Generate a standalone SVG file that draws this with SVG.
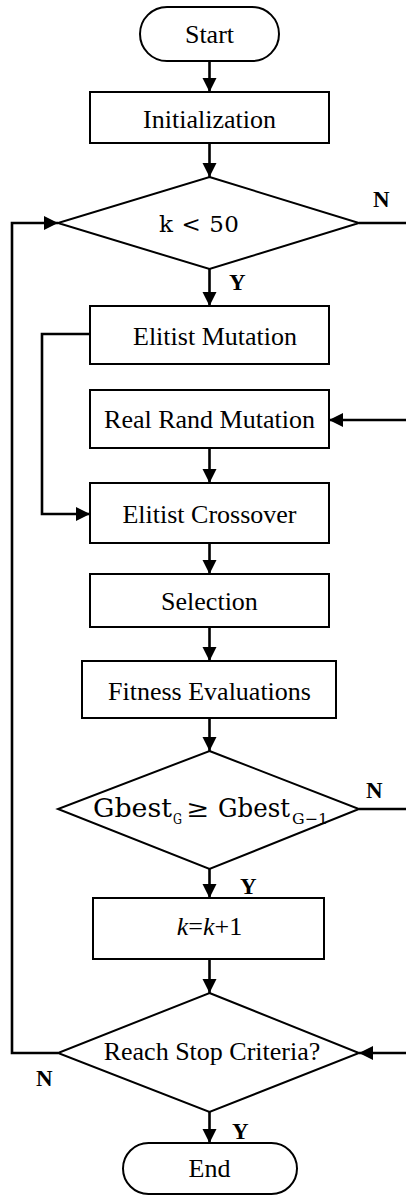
<svg xmlns="http://www.w3.org/2000/svg" width="406" height="1196" viewBox="0 0 406 1196">
<style>
.shape{fill:#fff;stroke:#000;stroke-width:2}
.conn{fill:none;stroke:#000;stroke-width:2.6}
.t{font-family:"Liberation Serif","Times New Roman",serif;font-size:26px;text-anchor:middle;fill:#000}
.m{font-family:"DejaVu Serif",serif;fill:#000}
.lab{font-family:"Liberation Serif","Times New Roman",serif;font-size:23px;font-weight:bold;fill:#000}
</style>
<defs>
<marker id="ah" markerUnits="userSpaceOnUse" markerWidth="15" markerHeight="15" refX="14" refY="7" orient="auto">
<path d="M0,0 L14,7 L0,14 z" fill="#000"/>
</marker>
</defs>
<g id="connectors">
<line class="conn" x1="209.5" y1="61" x2="209.5" y2="92" marker-end="url(#ah)"/>
<line class="conn" x1="209.5" y1="143" x2="209.5" y2="177" marker-end="url(#ah)"/>
<line class="conn" x1="359" y1="223" x2="406" y2="223"/>
<line class="conn" x1="209.5" y1="269" x2="209.5" y2="306" marker-end="url(#ah)"/>
<polyline class="conn" points="90,334 42,334 42,514 90,514" marker-end="url(#ah)"/>
<line class="conn" x1="406" y1="420" x2="329" y2="420" marker-end="url(#ah)"/>
<line class="conn" x1="209.5" y1="448" x2="209.5" y2="483" marker-end="url(#ah)"/>
<line class="conn" x1="209.5" y1="543" x2="209.5" y2="574" marker-end="url(#ah)"/>
<line class="conn" x1="209.5" y1="627" x2="209.5" y2="661" marker-end="url(#ah)"/>
<line class="conn" x1="209.5" y1="718" x2="209.5" y2="751" marker-end="url(#ah)"/>
<line class="conn" x1="359" y1="809" x2="406" y2="809"/>
<line class="conn" x1="209.5" y1="869" x2="209.5" y2="898" marker-end="url(#ah)"/>
<line class="conn" x1="209.5" y1="959" x2="209.5" y2="993" marker-end="url(#ah)"/>
<polyline class="conn" points="58,1053 12,1053 12,223 58,223" marker-end="url(#ah)"/>
<line class="conn" x1="406" y1="1053" x2="359" y2="1053" marker-end="url(#ah)"/>
<line class="conn" x1="209.5" y1="1112" x2="209.5" y2="1143" marker-end="url(#ah)"/>
<text class="lab" x="373" y="207">N</text>
<text class="lab" x="229" y="290">Y</text>
<text class="lab" x="366" y="798">N</text>
<text class="lab" x="240" y="894">Y</text>
<text class="lab" x="36" y="1086">N</text>
<text class="lab" x="232" y="1139">Y</text>
</g>
<g id="start">
<rect class="shape" x="140" y="7" width="139" height="54" rx="27"/>
<text class="t" x="209.5" y="43">Start</text>
</g>
<g id="init">
<rect class="shape" x="90" y="92" width="239" height="51"/>
<text class="t" x="209.5" y="128">Initialization</text>
</g>
<g id="cond1">
<polygon class="shape" points="209.5,177 359,223 209.5,269 58,223"/>
<text class="m" x="199" y="232" font-size="23" text-anchor="middle" textLength="80" lengthAdjust="spacing">k &lt; 50</text>
</g>
<g id="elitist-mutation">
<rect class="shape" x="90" y="306" width="239" height="58"/>
<text class="t" x="215" y="345">Elitist Mutation</text>
</g>
<g id="real-rand">
<rect class="shape" x="90" y="390" width="239" height="58"/>
<text class="t" x="209.5" y="428" font-size="23.5">Real Rand Mutation</text>
</g>
<g id="elitist-crossover">
<rect class="shape" x="90" y="483" width="239" height="60"/>
<text class="t" x="209.5" y="523">Elitist Crossover</text>
</g>
<g id="selection">
<rect class="shape" x="90" y="574" width="239" height="53"/>
<text class="t" x="209.5" y="610">Selection</text>
</g>
<g id="fitness">
<rect class="shape" x="82" y="661" width="254" height="57"/>
<text class="t" x="209.5" y="700">Fitness Evaluations</text>
</g>
<g id="cond2">
<polygon class="shape" points="209.5,751 359,809 209.5,869 58,809"/>
<text class="m" font-size="26" x="93" y="817" textLength="79" lengthAdjust="spacingAndGlyphs">Gbest</text>
<text class="m" font-size="15" x="173" y="824" textLength="9" lengthAdjust="spacingAndGlyphs">G</text>
<text class="m" font-size="24" x="186" y="817" textLength="23" lengthAdjust="spacingAndGlyphs">≥</text>
<text class="m" font-size="26" x="218" y="817" textLength="72" lengthAdjust="spacingAndGlyphs">Gbest</text>
<text class="m" font-size="15" x="292" y="824" textLength="36" lengthAdjust="spacingAndGlyphs">G−1</text>
</g>
<g id="increment">
<rect class="shape" x="93" y="898" width="231" height="61"/>
<text class="t" x="209.5" y="935"><tspan font-style="italic">k</tspan>=<tspan font-style="italic">k</tspan>+1</text>
</g>
<g id="cond3">
<polygon class="shape" points="209.5,993 359,1053 209.5,1112 58,1053"/>
<text class="t" x="212" y="1060">Reach Stop Criteria?</text>
</g>
<g id="end">
<rect class="shape" x="123" y="1143" width="174" height="51" rx="25.5"/>
<text class="t" x="209.5" y="1177">End</text>
</g>
</svg>
